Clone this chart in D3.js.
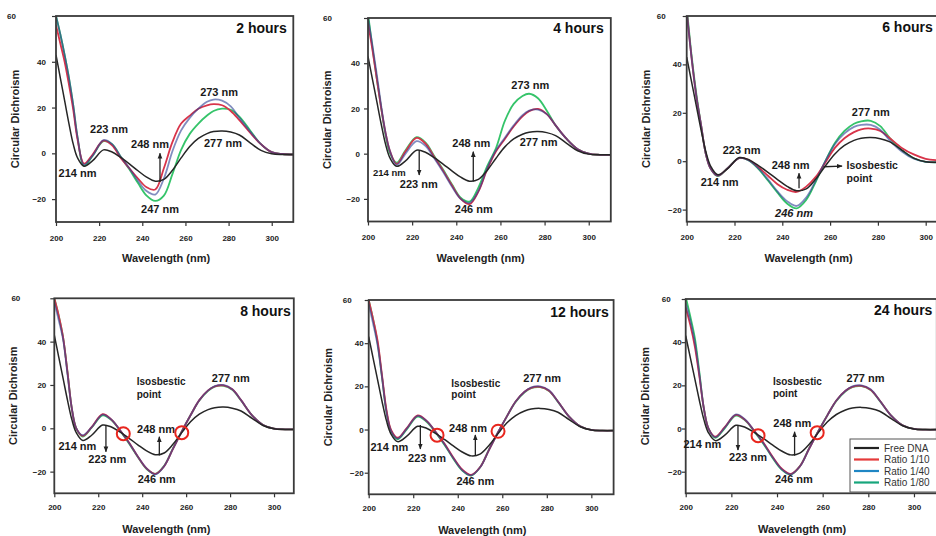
<!DOCTYPE html>
<html>
<head>
<meta charset="utf-8">
<script src="https://cdn.jsdelivr.net/npm/d3@7"></script>
<style>
  body { margin: 0; background: #fff; }
  svg { display: block; font-family: "Liberation Sans", Arial, sans-serif; }
</style>
</head>
<body>
<div id="chart"></div>
<script>
// wavelength grid (nm) shared by every spectrum
const wavelengths = [200, 202, 204, 206, 208, 210, 213, 217, 222, 226, 230, 234, 238, 242, 246, 250, 254, 258, 262, 266, 270, 273, 277, 281, 285, 290, 295, 300, 305, 310];

// free DNA control, same in every panel
const freeDNA = [43, 33, 23, 13, 4, -2, -5.6, -3.2, 1.5, 0.6, -1.8, -4.6, -7.6, -10.4, -12.2, -11.4, -7.4, -2, 3, 6.5, 8.6, 9.5, 9.8, 9.3, 8, 4.6, 1.3, -0.2, -0.5, -0.5];

// 2 hours
const r10_2h = [56, 48, 40, 30, 19, 6, -4.5, -0.5, 5.5, 3.5, -2, -6.5, -11, -14.8, -15.8, -6.5, 5, 13, 16.5, 19.5, 21, 21.5, 21, 18.5, 14.5, 9, 4, 0.5, -0.3, -0.5];
const r40_2h = [60, 52, 43, 33, 21, 7, -5, -1, 5.8, 4, -1.5, -6.5, -12, -16.5, -18, -11, 1, 10, 15.5, 19.5, 22.5, 23.5, 23, 20.5, 15.5, 9.5, 4, 0.5, -0.3, -0.5];
const r80_2h = [60, 52, 43, 33, 21, 7, -5.5, -1, 5.3, 4, -1.5, -7, -13, -18.5, -20.8, -18.5, -9, 1.5, 8.5, 13, 16.5, 18.5, 19.5, 19, 16, 10, 4, 0.5, -0.3, -0.5];
// 4 hours
const r10_4h = [58, 46, 33, 20, 9, 1, -4.5, 1, 7, 4.5, -1.5, -7.5, -14, -20, -22.3, -16.8, -7, 1, 6.5, 12, 16.5, 18.8, 19.8, 17.5, 12.5, 6.5, 2, 0, -0.5, -0.5];
const r40_4h = [60, 48, 35, 21, 9, 1, -5, 0, 5.5, 3.5, -2, -8, -14.5, -20, -21.8, -16.5, -6.5, 1.5, 7, 12.5, 17, 19, 19.5, 17.5, 12.5, 6.5, 2, 0, -0.5, -0.5];
const r80_4h = [62, 47, 33, 20, 8, 0, -4, 1.5, 7.3, 5, -1, -7, -13.5, -19.5, -21.2, -15, -5.5, 2.5, 14.5, 22, 25.5, 26.5, 24.5, 19, 12.5, 6.5, 2, 0, -0.5, -0.5];
// 6 hours
const r10_6h = [62, 43, 27, 15, 3, -3, -6, -3, 1.3, 0.5, -2.5, -6, -9.5, -11.8, -12.7, -10.5, -6.5, -0.5, 5.5, 9.5, 12, 13.2, 13.5, 12.5, 9.5, 5.5, 2.8, 1, 0.4, 0.2];
const r40_6h = [62, 43, 27, 15, 3, -3, -6, -3, 1.3, 0.3, -3, -7.5, -12.5, -16.5, -18.5, -15, -8, 0, 7, 11.5, 14.2, 15, 15, 13, 8.5, 4, 1, -0.3, -0.5, -0.5];
const r80_6h = [64, 44, 28, 15, 3, -3, -6.2, -3, 1.3, 0.3, -3.2, -8, -13, -17.5, -19.5, -16, -8.5, 0, 7.5, 12.5, 15.5, 16.5, 16.7, 14.5, 9.5, 4.5, 1.2, -0.3, -0.5, -0.5];
// 8 hours
const r10_8h = [60, 52, 42, 26, 9, 0, -3.5, 0.5, 6.5, 4, -1, -6.5, -13, -18.5, -21, -17.5, -9.5, -1.5, 6, 13, 17.5, 19.3, 19.8, 18, 13, 6, 1.5, -0.2, -0.5, -0.5];
const r40_8h = [58, 50, 41, 25, 9, 0, -3.2, 0.5, 6.3, 4, -1, -6.7, -13, -18.5, -21.3, -17.5, -9.5, -1.5, 6, 13, 17.5, 19.5, 20, 18, 13, 6, 1.5, -0.2, -0.5, -0.5];
const r80_8h = [60, 52, 42, 26, 9, 0, -3.8, 0.3, 6, 3.8, -1.2, -7, -13.2, -18.8, -21, -17.3, -9.3, -1.4, 6, 12.8, 17.3, 19.2, 19.6, 17.8, 12.8, 6, 1.5, -0.2, -0.5, -0.5];
// 12 hours
const r10_12h = [60, 51, 41, 25, 9, 0, -3.8, 0.5, 6.5, 4, -1, -6.5, -13, -18.5, -21, -17.5, -9.5, -1.5, 6, 13, 17.5, 19.3, 19.8, 18, 13, 6, 1.5, -0.2, -0.5, -0.5];
const r40_12h = [58, 49, 39, 24, 8, -0.5, -4.2, 0.3, 6.3, 4, -1, -6.7, -13.2, -18.8, -21.2, -17.6, -9.5, -1.5, 6, 13, 17.5, 19.5, 20, 18.2, 13, 6, 1.5, -0.2, -0.5, -0.5];
const r80_12h = [60, 51, 40, 24, 8, -0.5, -4.5, 0, 6, 3.6, -1.3, -7, -13.5, -19, -21.3, -17.5, -9.3, -1.4, 6, 12.8, 17.3, 19.2, 19.6, 17.8, 12.8, 6, 1.5, -0.2, -0.5, -0.5];
// 24 hours
const r10_24h = [56, 48, 38, 24, 9, 0, -3.8, 0.5, 6.3, 4, -1, -6.5, -13, -18.5, -21, -17.5, -9.5, -1.5, 6, 13, 17.5, 19.3, 19.8, 18, 13, 6, 1.5, -0.2, -0.5, -0.5];
const r40_24h = [58, 50, 40, 25, 9, 0, -4, 0.3, 6.5, 4.2, -1, -6.7, -13.2, -18.8, -21.2, -17.6, -9.5, -1.5, 6, 13, 17.5, 19.5, 20, 18.2, 13, 6, 1.5, -0.2, -0.5, -0.5];
const r80_24h = [61, 52, 42, 26, 9, 0, -4.3, 0, 6, 3.8, -1.3, -7, -13.5, -19, -21.3, -17.5, -9.3, -1.4, 6, 12.8, 17.3, 19.2, 19.6, 17.8, 12.8, 6, 1.5, -0.2, -0.5, -0.5];

const seriesNames = ["Free DNA", "Ratio 1/10", "Ratio 1/40", "Ratio 1/80"];
const seriesColors = ["#262626", "#d8344a", "#2d3f94", "#35c46a"];
const legendColors = ["#222222", "#e53a3a", "#1f86c4", "#17a67c"];
const xTicks = [200, 220, 240, 260, 280, 300];
const yTicks = [-20, 0, 20, 40, 60];
const panelTitles = ["2 hours", "4 hours", "6 hours", "8 hours", "12 hours", "24 hours"];

// layout of each panel (pixel ranges), annotations in data units
const panels = [
  { series: [freeDNA, r10_2h, r40_2h, r80_2h], xd: [200, 310], xr: [56, 293.3], yd: [-30, 60], yr: [222, 16], xPad: 9, yPad: 10, topPad: 40,
    title: { nm: 307, v: 52.7, anchor: "end" },
    notes: [["273 nm", 275.6, 25], ["223 nm", 224.6, 8.9], ["248 nm", 243.6, 2.3], ["214 nm", 210, -10.2], ["247 nm", 248.2, -26.2], ["277 nm", 277.4, 2.9]],
    arrows: [[248.2, -12.5, 0]], circles: [] },
  { series: [freeDNA, r10_4h, r40_4h, r80_4h], xd: [200, 310], xr: [368, 610.8], yd: [-30, 60], yr: [221.5, 18], xPad: 9, yPad: 8, topPad: 36,
    title: { nm: 306.8, v: 53.5, anchor: "end" },
    notes: [["273 nm", 273.5, 28.5], ["248 nm", 246.8, 3.1], ["277 nm", 277.3, 3.4], ["214 nm", 209.7, -9.9, 9.5], ["223 nm", 223, -15.3], ["246 nm", 247.9, -26.4]],
    arrows: [[247.7, -12.3, 0.9], [223.2, 1.3, -9.4]], circles: [] },
  { series: [freeDNA, r10_6h, r40_6h, r80_6h], xd: [200, 310], xr: [686.7, 949.6], yd: [-25, 60], yr: [221.7, 16], xPad: 9, yPad: 5, topPad: 21,
    title: { nm: 281.8, v: 53.3, anchor: "start" },
    notes: [["277 nm", 277, 18.7], ["223 nm", 223, 3], ["214 nm", 213.8, -10.1], ["248 nm", 243.5, -3.3], ["246 nm", 244.9, -22.9, 11, true],
            ["Isosbestic", 266.9, -3.2, 10.5, false, "start"], ["point", 266.9, -8.5, 10.5, false, "start"]],
    arrows: [[247, -11.2, -5], [257.3, -2.3, 265, -2]], circles: [] },
  { series: [freeDNA, r10_8h, r40_8h, r80_8h], xd: [200, 309], xr: [54.3, 293.8], yd: [-30, 60], yr: [493.3, 298.3], xPad: 7, yPad: 8, topPad: 34,
    title: { nm: 307.6, v: 52, anchor: "end" },
    notes: [["Isosbestic", 237.5, 20, 10, false, "start"], ["point", 237.5, 13.8, 10, false, "start"], ["277 nm", 280.3, 21.5], ["248 nm", 246.3, -2.3],
            ["214 nm", 210.5, -10], ["223 nm", 224.1, -16.2], ["246 nm", 246.6, -25.1]],
    arrows: [[247.8, -12.6, -3.9], [223.5, 1.5, -10.8]], circles: [[231.4, -2.5], [258, -2]] },
  { series: [freeDNA, r10_12h, r40_12h, r80_12h], xd: [200, 310], xr: [368.7, 613.6], yd: [-30, 60], yr: [494.3, 300], xPad: 7, yPad: 5, topPad: 17,
    title: { nm: 307.8, v: 52.2, anchor: "end" },
    notes: [["Isosbestic", 237.1, 19.8, 10, false, "start"], ["point", 237.1, 14.5, 10, false, "start"], ["277 nm", 277.9, 22.1], ["248 nm", 244.6, -1],
            ["214 nm", 209.3, -10], ["223 nm", 226.2, -14.9], ["246 nm", 247.9, -25.7]],
    arrows: [[247.9, -12.1, -2.5], [223.2, 2.1, -9]], circles: [[230.7, -2.6], [258.1, -0.8]] },
  { series: [freeDNA, r10_24h, r40_24h, r80_24h], xd: [200, 310], xr: [685.7, 936.8], yd: [-30, 60], yr: [493.3, 299], xPad: 7, yPad: 4, topPad: 15,
    title: { nm: 282.5, v: 52.6, anchor: "start" },
    notes: [["Isosbestic", 238.2, 20.1, 10, false, "start"], ["point", 238.2, 14.7, 10, false, "start"], ["277 nm", 278.8, 21.7], ["248 nm", 246.7, 0.8],
            ["214 nm", 207.3, -9.2], ["223 nm", 227.3, -14.9], ["246 nm", 247.4, -25.4]],
    arrows: [[247.7, -12.6, -1.5], [222.9, 1.6, -10]], circles: [[231.7, -3.3], [257.6, -1.9]], legend: true }
];

const svg = d3.select("#chart").append("svg").attr("width", 936).attr("height", 536);
const defs = svg.append("defs");
defs.append("marker")
  .attr("id", "arrow")
  .attr("viewBox", "0 0 10 10")
  .attr("refX", 9).attr("refY", 5)
  .attr("markerWidth", 4.5).attr("markerHeight", 4.5)
  .attr("orient", "auto")
  .append("path").attr("d", "M0,1 L10,5 L0,9 Z").attr("fill", "#222");

panels.forEach((p, pi) => {
  const x = d3.scaleLinear().domain(p.xd).range(p.xr);
  const y = d3.scaleLinear().domain(p.yd).range(p.yr);
  const g = svg.append("g");

  defs.append("clipPath").attr("id", "clip" + pi)
    .append("rect")
    .attr("x", p.xr[0]).attr("y", p.yr[1])
    .attr("width", p.xr[1] - p.xr[0]).attr("height", p.yr[0] - p.yr[1]);

  const line = d3.line()
    .curve(d3.curveCatmullRom.alpha(0.5))
    .x((d, i) => x(wavelengths[i]))
    .y(d => y(d));

  // green first, then red, blue half see-through over red (gives the purple look), free DNA on top
  const order = [3, 1, 2, 0];
  g.append("g").attr("clip-path", "url(#clip" + pi + ")")
    .selectAll("path")
    .data(order)
    .enter()
    .append("path")
    .attr("d", k => line(p.series[k]))
    .attr("fill", "none")
    .attr("stroke", k => seriesColors[k])
    .attr("stroke-opacity", k => (k == 2 ? 0.6 : 1))
    .attr("stroke-width", k => (k == 0 ? 1.5 : 1.8))
    .attr("stroke-linejoin", "round");

  // axes
  const xa = g.append("g")
    .attr("transform", "translate(0," + p.yr[0] + ")")
    .call(d3.axisBottom(x).tickValues(xTicks).tickSize(4).tickSizeOuter(0).tickPadding(p.xPad));
  const ya = g.append("g")
    .attr("transform", "translate(" + p.xr[0] + ",0)")
    .call(d3.axisLeft(y).tickValues(yTicks).tickSize(4).tickSizeOuter(0).tickPadding(p.yPad - 4));
  [xa, ya].forEach(a => {
    a.select(".domain").remove();
    a.selectAll("line").attr("stroke", "#333").attr("stroke-width", 1.2);
    a.selectAll("text")
      .attr("font-family", "Liberation Sans, Arial, sans-serif")
      .attr("font-size", 8)
      .attr("font-weight", "bold")
      .attr("fill", "#222");
  });
  ya.selectAll(".tick text").filter(d => d === 60).attr("x", -p.topPad);

  // frame
  g.append("rect")
    .attr("x", p.xr[0]).attr("y", p.yr[1])
    .attr("width", p.xr[1] - p.xr[0]).attr("height", p.yr[0] - p.yr[1])
    .attr("fill", "none").attr("stroke", "#3a3a3a").attr("stroke-width", 1.8);

  // axis titles
  g.append("text")
    .attr("x", x(251)).attr("y", p.yr[0] + 40)
    .attr("text-anchor", "middle")
    .attr("font-size", 11).attr("font-weight", "bold").attr("fill", "#222")
    .text("Wavelength (nm)");
  g.append("text")
    .attr("transform", "translate(" + (p.xr[0] - 37) + "," + (p.yr[0] + p.yr[1]) / 2 + ") rotate(-90)")
    .attr("text-anchor", "middle")
    .attr("font-size", 11).attr("font-weight", "bold").attr("fill", "#222")
    .text("Circular Dichroism");

  // panel title
  g.append("text")
    .attr("x", x(p.title.nm)).attr("y", y(p.title.v))
    .attr("text-anchor", p.title.anchor)
    .attr("font-size", 14).attr("font-weight", "bold").attr("fill", "#111")
    .text(panelTitles[pi]);

  // peak labels
  g.selectAll(".note")
    .data(p.notes)
    .enter()
    .append("text")
    .attr("x", d => x(d[1])).attr("y", d => y(d[2]))
    .attr("text-anchor", d => d[5] || "middle")
    .attr("font-size", d => d[3] || 11)
    .attr("font-style", d => (d[4] ? "italic" : "normal"))
    .attr("font-weight", "bold").attr("fill", "#1a1a1a")
    .text(d => d[0]);

  // arrows: [nm, from, to] vertical, or [nm1, v1, nm2, v2]
  g.selectAll(".arr")
    .data(p.arrows)
    .enter()
    .append("line")
    .attr("x1", d => x(d[0]))
    .attr("y1", d => y(d[1]))
    .attr("x2", d => (d.length == 4 ? x(d[2]) : x(d[0])))
    .attr("y2", d => (d.length == 4 ? y(d[3]) : y(d[2])))
    .attr("stroke", "#222").attr("stroke-width", 1.3)
    .attr("marker-end", "url(#arrow)");

  // isosbestic circles
  g.selectAll(".circ")
    .data(p.circles)
    .enter()
    .append("circle")
    .attr("cx", d => x(d[0])).attr("cy", d => y(d[1]))
    .attr("r", 6.5)
    .attr("fill", "none").attr("stroke", "#e8261e").attr("stroke-width", 2);

  if (p.legend) {
    const lg = g.append("g").attr("transform", "translate(850,439)");
    lg.append("rect").attr("width", 100).attr("height", 53)
      .attr("fill", "#fff").attr("stroke", "#555").attr("stroke-width", 1);
    const rows = lg.selectAll(".row").data(seriesNames).enter().append("g")
      .attr("transform", (d, i) => "translate(0," + (9 + i * 11.5) + ")");
    rows.append("line").attr("x1", 4).attr("x2", 29)
      .attr("stroke", (d, i) => legendColors[i]).attr("stroke-width", 2.2);
    rows.append("text").attr("x", 34).attr("y", 3.5)
      .attr("font-size", 10).attr("fill", "#333").text(d => d);
  }
});
</script>
</body>
</html>
